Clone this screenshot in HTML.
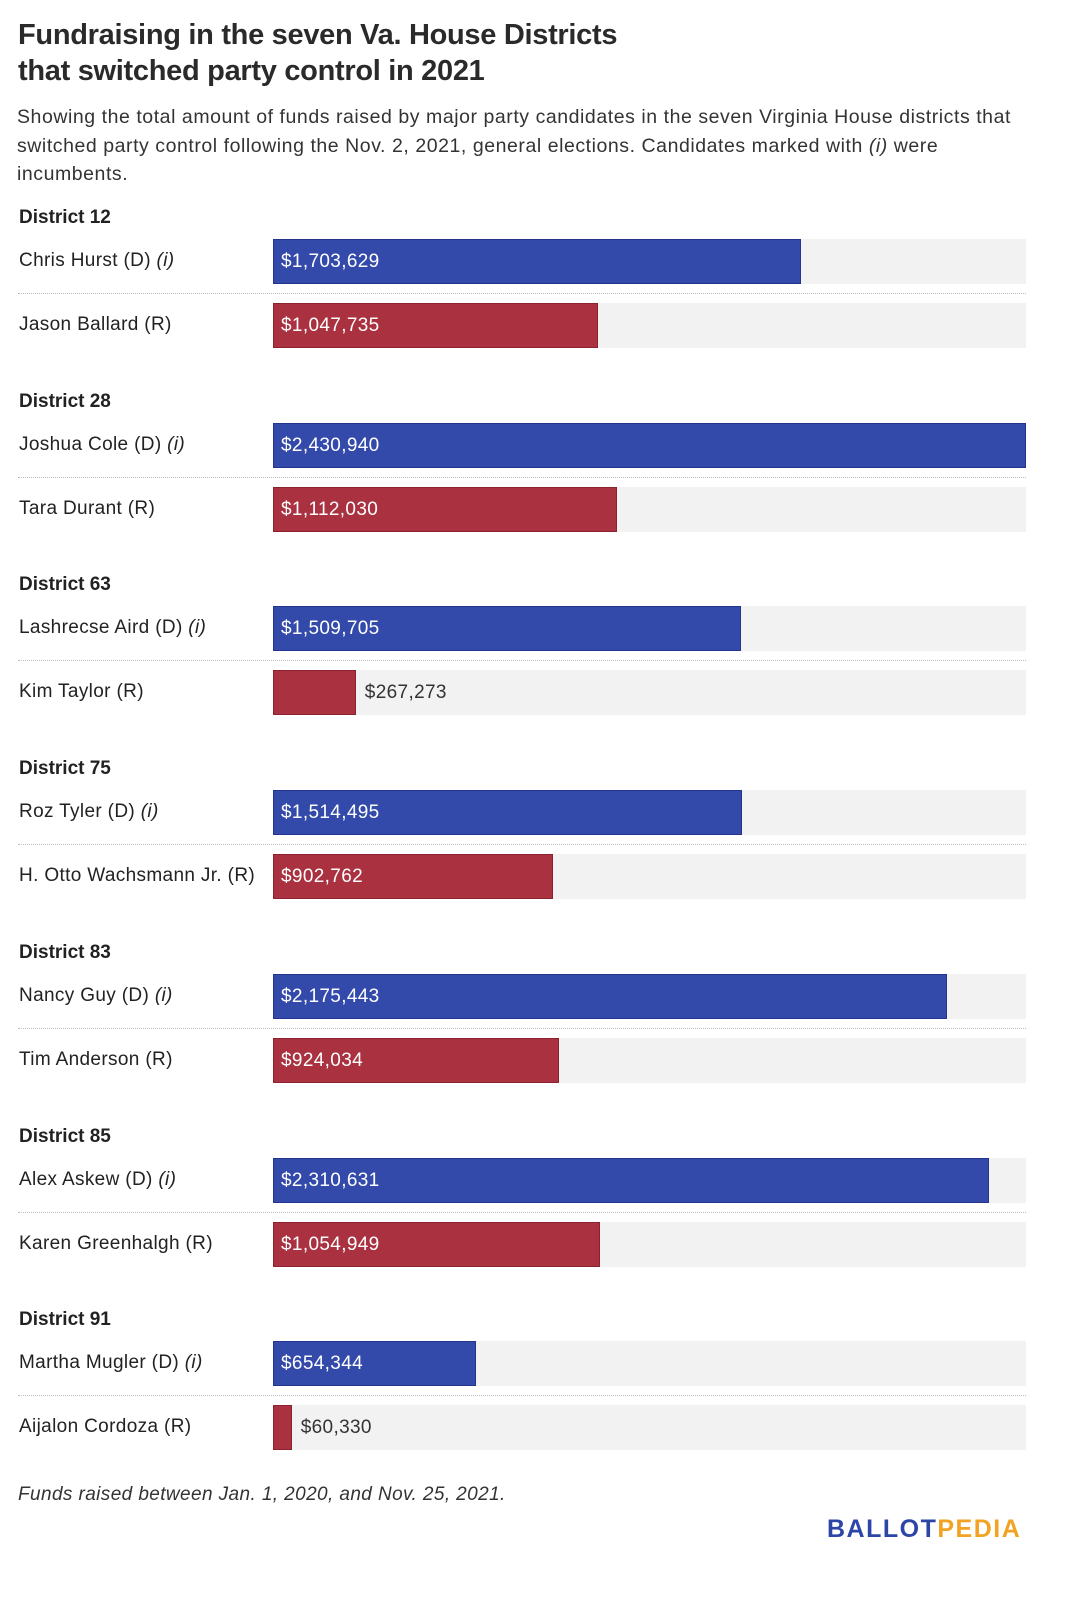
<!DOCTYPE html>
<html><head><meta charset="utf-8"><style>
body{margin:0;width:1066px;height:1600px;background:#fff;font-family:"Liberation Sans",sans-serif;color:#222;position:relative;overflow:hidden}
.t{position:absolute;left:18px;top:17px;font-size:29px;font-weight:bold;line-height:36px;letter-spacing:-0.3px;color:#2a2a2a}
.s{position:absolute;left:17px;top:103px;width:1000px;font-size:19.5px;line-height:28.5px;color:#333;letter-spacing:0.55px}
.abs{position:absolute}
.dh{font-size:19px;font-weight:bold;left:19px;letter-spacing:0px}
.nm{font-size:19px;left:19px;letter-spacing:0.35px}
.bg{background:#f2f2f2;left:273px;width:753px;height:45px}
.bar{left:273px;height:45px;box-sizing:border-box}
.d{background:#334aab;border:1px solid #23348a}
.r{background:#a93140;border:1px solid #8a2230}
.v{font-size:19px;line-height:45px;letter-spacing:0.35px}
.sep{left:18px;width:1008px;border-top:1px dotted #bbb;height:0}
.f{position:absolute;left:18px;top:1484px;font-size:19px;font-style:italic;color:#333;letter-spacing:0.4px}
.logo{position:absolute;left:827px;top:1515px;font-size:25px;font-weight:bold;letter-spacing:1.5px}
</style></head><body>
<div class="t">Fundraising in the seven Va. House Districts<br>that switched party control in 2021</div>
<div class="s">Showing the total amount of funds raised by major party candidates in the seven Virginia House districts that switched party control following the Nov. 2, 2021, general elections. Candidates marked with <i>(i)</i> were incumbents.</div>
<div id="chart"></div>
<div class="f">Funds raised between Jan. 1, 2020, and Nov. 25, 2021.</div>
<div class="logo"><span style="color:#2e45a8">BALLOT</span><span style="color:#f2a324">PEDIA</span></div>
<script>
const districts=["District 12","District 28","District 63","District 75","District 83","District 85","District 91"];
const demNames=["Chris Hurst (D)","Joshua Cole (D)","Lashrecse Aird (D)","Roz Tyler (D)","Nancy Guy (D)","Alex Askew (D)","Martha Mugler (D)"];
const repNames=["Jason Ballard (R)","Tara Durant (R)","Kim Taylor (R)","H. Otto Wachsmann Jr. (R)","Tim Anderson (R)","Karen Greenhalgh (R)","Aijalon Cordoza (R)"];
const demValues=[1703629,2430940,1509705,1514495,2175443,2310631,654344];
const repValues=[1047735,1112030,267273,902762,924034,1054949,60330];
const maxV=2430940, W=753;
const x=v=>v/maxV*W;
const c=document.getElementById('chart');
function mk(cls,top,extra){const e=document.createElement('div');e.className='abs '+cls;e.style.top=top+'px';if(extra)Object.assign(e.style,extra);c.appendChild(e);return e;}
const fmt=v=>'$'+v.toLocaleString('en-US');
districts.forEach((d,i)=>{
  const y0=218+i*183.7;
  const h=mk('dh',y0-11);h.textContent=d;
  
  
  [[demNames[i],demValues[i],'d',y0+21,true],[repNames[i],repValues[i],'r',y0+85,false]].forEach(([n,v,p,top,inc])=>{
    const nm=mk('nm',top+11);nm.innerHTML=n+(inc?' <i>(i)</i>':'');
    
    
    const bg=mk('bg',top);
    
    
    const w=x(v);
    const b=mk('bar '+p,top,{width:Math.max(w,2)+'px'});
    
    
    const inside=w>130;
    const lb=mk('v',top,{left:(inside?281:273+w+9)+'px',color:inside?'#fff':'#333'});
    lb.textContent=fmt(v);
    
    
  });
  const s=mk('sep',y0+75);
  
  
});
</script>
</body></html>
